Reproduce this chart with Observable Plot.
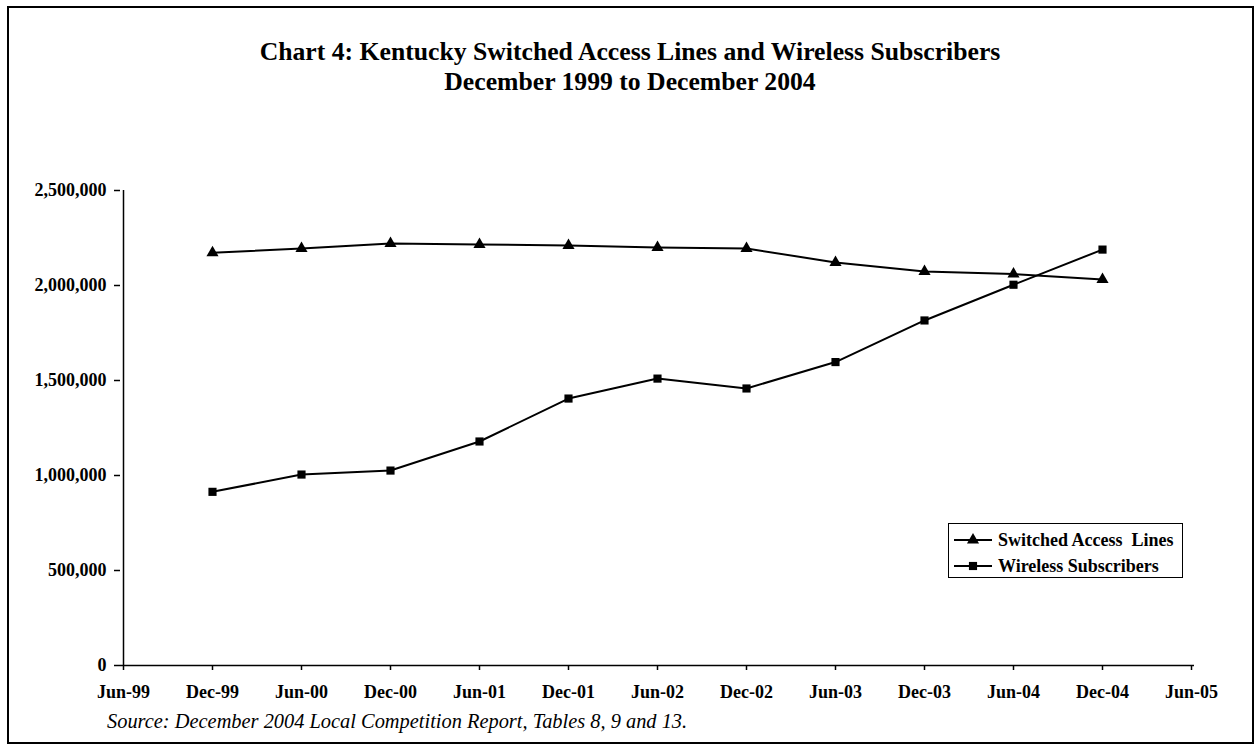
<!DOCTYPE html>
<html>
<head>
<meta charset="utf-8">
<script src="https://cdn.jsdelivr.net/npm/d3@7"></script>
<script src="https://cdn.jsdelivr.net/npm/@observablehq/plot@0.6"></script>
<style>
  html, body { margin: 0; padding: 0; background: #fff; }
  #page { position: relative; width: 1256px; height: 746px; overflow: hidden; font-family: "Liberation Serif", "Times New Roman", serif; color: #000; }
  #border { position: absolute; left: 7px; top: 6px; width: 1243px; height: 734px; border: 2px solid #000; }
  #title { position: absolute; left: 8px; width: 1244px; top: 37px; text-align: center; font-weight: bold; font-size: 25.7px; line-height: 30px; }
  #chart { position: absolute; left: 0; top: 150px; }
  #caption { position: absolute; left: 107px; top: 710px; font-style: italic; font-size: 20.4px; line-height: 22px; white-space: nowrap; }
  #legend { position: absolute; left: 948px; top: 523px; width: 233px; height: 53px; border: 1px solid #000; background: #fff; font-weight: bold; font-size: 18px; }
  .lrow { position: absolute; left: 4px; height: 24px; display: flex; align-items: center; white-space: pre; }
  .lrow svg { margin-right: 5px; }
</style>
</head>
<body>
<div id="page">
  <div id="border"></div>
  <div id="title">Chart 4: Kentucky Switched Access Lines and Wireless Subscribers<br>December 1999 to December 2004</div>
  <div id="chart"></div>
  <div id="legend"></div>
  <div id="caption">Source: December 2004 Local Competition Report, Tables 8, 9 and 13.</div>
</div>
<script>
// Axis tick labels (half-year periods)
const tickLabels = ["Jun-99","Dec-99","Jun-00","Dec-00","Jun-01","Dec-01","Jun-02","Dec-02","Jun-03","Dec-03","Jun-04","Dec-04","Jun-05"];
// Data periods
const periods = ["Dec-99","Jun-00","Dec-00","Jun-01","Dec-01","Jun-02","Dec-02","Jun-03","Dec-03","Jun-04","Dec-04"];
// Series values
const switchedAccessLines = [2172000, 2195000, 2221000, 2216000, 2210000, 2200000, 2195000, 2121000, 2074000, 2060000, 2032000];
const wirelessSubscribers = [914000, 1005000, 1026000, 1179000, 1405000, 1510000, 1458000, 1597000, 1816000, 2004000, 2189000];
const yTicks = [0, 500000, 1000000, 1500000, 2000000, 2500000];
const seriesNames = ["Switched Access  Lines", "Wireless Subscribers"];
const seriesSymbols = ["triangle", "square"];

const sw = periods.map((p, i) => ({period: p, value: switchedAccessLines[i]}));
const wl = periods.map((p, i) => ({period: p, value: wirelessSubscribers[i]}));

const chart = Plot.plot({
  width: 1256,
  height: 560,
  marginLeft: 120,
  marginRight: 62,
  marginTop: 40,
  marginBottom: 45,
  style: {fontFamily: '"Liberation Serif", "Times New Roman", serif', fontSize: "18px", fontWeight: "bold", color: "#000", background: "transparent", overflow: "visible"},
  x: {type: "point", domain: tickLabels, padding: 0, label: null, tickSize: 5, tickPadding: 15},
  y: {domain: [0, 2500000], ticks: yTicks, tickFormat: d3.format(","), label: null, tickSize: 6, tickPadding: 8},
  marks: [
    Plot.ruleY([0], {stroke: "#000", strokeWidth: 1.5}),
    Plot.ruleX([tickLabels[0]], {stroke: "#000", strokeWidth: 1.5}),
    Plot.line(sw, {x: "period", y: "value", stroke: "#000", strokeWidth: 2}),
    Plot.line(wl, {x: "period", y: "value", stroke: "#000", strokeWidth: 2}),
    Plot.dot(sw, {x: "period", y: "value", symbol: seriesSymbols[0], fill: "#000", stroke: "none", r: 4.5}),
    Plot.dot(wl, {x: "period", y: "value", symbol: seriesSymbols[1], fill: "#000", stroke: "none", r: 4.6})
  ]
});
chart.querySelectorAll("g[aria-label$='tick'] path, g[aria-label$='tick'] line").forEach(e => e.setAttribute("stroke-width", "1.5"));
document.getElementById("chart").appendChild(chart);

// Legend
const legend = document.getElementById("legend");
seriesNames.forEach((name, i) => {
  const row = document.createElement("div");
  row.className = "lrow";
  row.style.top = (i === 0 ? 4 : 30) + "px";
  const s = d3.create("svg").attr("width", 40).attr("height", 20);
  s.append("line").attr("x1", 1).attr("x2", 39).attr("y1", 10).attr("y2", 10).attr("stroke", "#000").attr("stroke-width", 2);
  const sym = seriesSymbols[i] === "triangle" ? d3.symbolTriangle : d3.symbolSquare;
  s.append("path").attr("d", d3.symbol(sym, Math.PI * (i === 0 ? 4.5 : 4.6) ** 2)()).attr("transform", "translate(20,10)").attr("fill", "#000");
  row.appendChild(s.node());
  const t = document.createElement("span");
  t.textContent = name;
  row.appendChild(t);
  legend.appendChild(row);
});
</script>
</body>
</html>
